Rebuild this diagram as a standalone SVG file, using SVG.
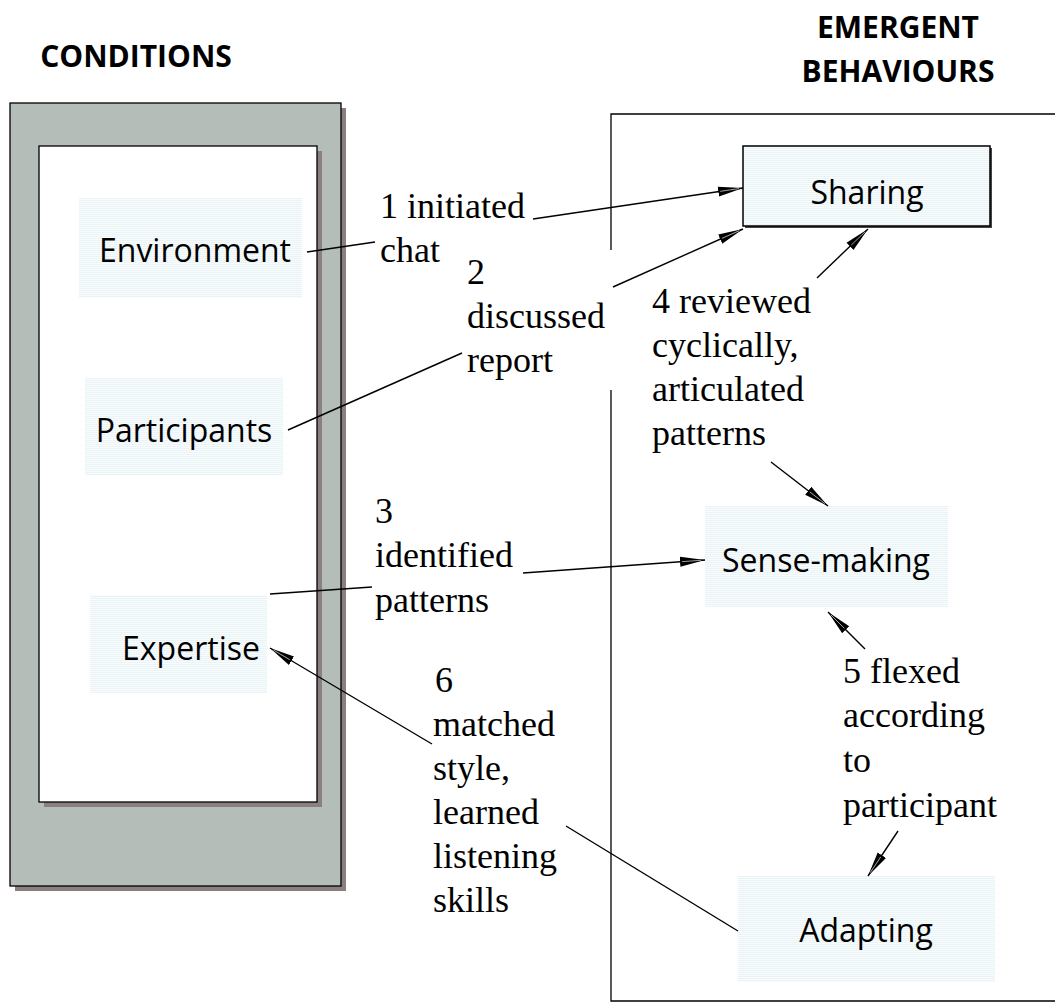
<svg xmlns="http://www.w3.org/2000/svg" width="1055" height="1005" viewBox="0 0 1055 1005">
  <style>
    .title { font-family: "Open Sans", "Liberation Sans", sans-serif; font-weight: bold; font-size: 30px; fill: #000; text-anchor: middle; }
    .node-text { font-family: "Open Sans", "Liberation Sans", sans-serif; font-size: 32px; fill: #000; text-anchor: middle; }
    .label { font-family: "Liberation Serif", "Times New Roman", serif; font-size: 36px; fill: #000; }
    .edge { stroke: #000; stroke-width: 1.4; fill: none; }
    .arrow { marker-end: url(#head); }
    .frame-line { stroke: #000; stroke-width: 1.3; fill: none; }
  </style>
  <defs>
    <!-- faint ruled fill used behind the node labels -->
    <pattern id="tint" width="4" height="2" patternUnits="userSpaceOnUse">
      <rect width="4" height="2" fill="#f9fcfd"/>
      <rect width="4" height="1" fill="#eaf4f6"/>
    </pattern>
    <marker id="head" markerUnits="userSpaceOnUse" markerWidth="28" markerHeight="12" refX="25" refY="5.5" orient="auto">
      <path d="M0,0.5 L25,5.5 L0,10.5 Z" fill="#000"/>
      <path d="M2,5.5 L21,5.5" stroke="#fff" stroke-width="0.6"/>
    </marker>
  </defs>

  <rect width="1055" height="1005" fill="#fff"/>

  <!-- headings -->
  <text class="title" x="136" y="67">CONDITIONS</text>
  <text class="title" x="898" y="38">EMERGENT</text>
  <text class="title" x="898" y="82">BEHAVIOURS</text>

  <!-- conditions column: grey frame with white panel -->
  <g id="conditions-frame">
    <rect x="15" y="108" width="331" height="783" fill="#8a8080"/>
    <rect x="10" y="103" width="331" height="783" fill="#b4bdb8" stroke="#000" stroke-width="1.3"/>
    <rect x="44" y="151" width="278" height="656" fill="#8a8080"/>
    <rect x="39" y="146" width="278" height="656" fill="#fff" stroke="#000" stroke-width="1.3"/>
  </g>

  <!-- emergent behaviours container (left edge broken where labels pass) -->
  <g id="behaviours-frame">
    <path class="frame-line" d="M611,250 V114 H1056"/>
    <path class="frame-line" d="M611,390 V1001 H1056"/>
  </g>

  <g id="environment">
    <rect x="79" y="198" width="223" height="100" fill="url(#tint)"/>
    <text class="node-text" x="195" y="262">Environment</text>
  </g>
  <g id="participants">
    <rect x="85" y="378" width="198" height="97" fill="url(#tint)"/>
    <text class="node-text" x="184" y="442">Participants</text>
  </g>
  <g id="expertise">
    <rect x="90" y="595" width="177" height="98" fill="url(#tint)"/>
    <text class="node-text" x="191" y="660">Expertise</text>
  </g>

  <g id="sharing">
    <rect x="745" y="148" width="247" height="80" fill="#444"/>
    <rect x="743" y="146" width="247" height="80" fill="url(#tint)" stroke="#000" stroke-width="1.5"/>
    <text class="node-text" x="867" y="204">Sharing</text>
  </g>
  <g id="sense-making">
    <rect x="705" y="506" width="243" height="101" fill="url(#tint)"/>
    <text class="node-text" x="826" y="572">Sense-making</text>
  </g>
  <g id="adapting">
    <rect x="738" y="876" width="257" height="106" fill="url(#tint)"/>
    <text class="node-text" x="866" y="942">Adapting</text>
  </g>

  <!-- connectors -->
  <g id="connectors">
    <line class="edge" x1="307" y1="252" x2="375" y2="242"/>
    <line class="edge arrow" x1="533" y1="219" x2="743" y2="188"/>

    <line class="edge" x1="288" y1="430" x2="462" y2="353"/>
    <line class="edge arrow" x1="613" y1="287" x2="743" y2="229"/>

    <line class="edge" x1="270" y1="594" x2="372" y2="587"/>
    <line class="edge arrow" x1="523" y1="573" x2="705" y2="560"/>

    <line class="edge arrow" x1="817" y1="278" x2="868" y2="229"/>
    <line class="edge arrow" x1="771" y1="462" x2="828" y2="506"/>

    <line class="edge arrow" x1="865" y1="649" x2="828" y2="612"/>
    <line class="edge arrow" x1="898" y1="831" x2="868" y2="876"/>

    <line class="edge" x1="566" y1="826" x2="738" y2="931"/>
    <line class="edge arrow" x1="432" y1="744" x2="270" y2="648"/>
  </g>

  <!-- connector labels -->
  <g id="labels">
    <text class="label" x="380" y="218">1 initiated</text>
    <text class="label" x="380" y="262">chat</text>

    <text class="label" x="467" y="284">2</text>
    <text class="label" x="467" y="328">discussed</text>
    <text class="label" x="467" y="372">report</text>

    <text class="label" x="375" y="523">3</text>
    <text class="label" x="375" y="567">identified</text>
    <text class="label" x="375" y="612">patterns</text>

    <text class="label" x="652" y="313">4 reviewed</text>
    <text class="label" x="652" y="357">cyclically,</text>
    <text class="label" x="652" y="401">articulated</text>
    <text class="label" x="652" y="445">patterns</text>

    <text class="label" x="843" y="683">5 flexed</text>
    <text class="label" x="843" y="727">according</text>
    <text class="label" x="843" y="772">to</text>
    <text class="label" x="843" y="817">participant</text>

    <text class="label" x="435" y="692">6</text>
    <text class="label" x="433" y="736">matched</text>
    <text class="label" x="433" y="780">style,</text>
    <text class="label" x="433" y="824">learned</text>
    <text class="label" x="433" y="868">listening</text>
    <text class="label" x="433" y="912">skills</text>
  </g>
</svg>
